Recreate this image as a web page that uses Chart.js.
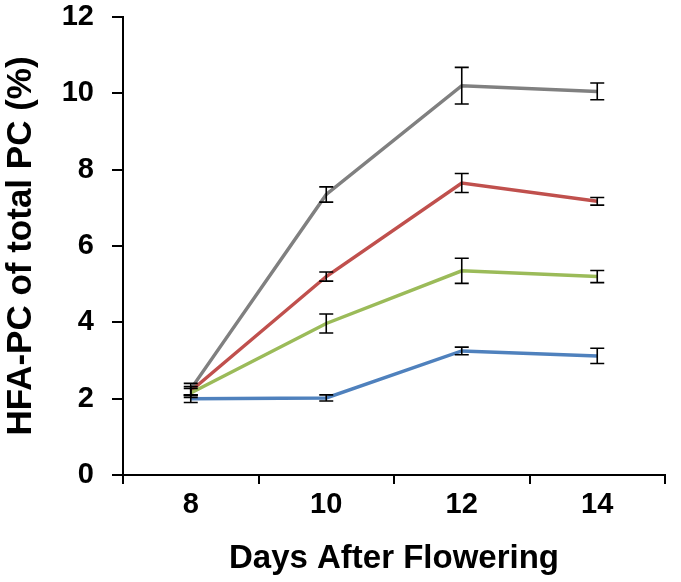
<!DOCTYPE html>
<html>
<head>
<meta charset="utf-8">
<script src="https://cdn.jsdelivr.net/npm/chart.js@4/dist/chart.umd.min.js"></script>
<style>
  html, body { margin: 0; padding: 0; background: #fff; }
  #wrap { width: 681px; height: 582px; }
</style>
</head>
<body>
<div id="wrap"><canvas id="myChart" width="681" height="582"></canvas></div>
<script>
// data
const days = ['8', '10', '12', '14'];
const blueVals = [2.0, 2.02, 3.25, 3.12];
const blueErr = [0.1, 0.08, 0.1, 0.2];
const greenVals = [2.15, 3.97, 5.35, 5.2];
const greenErr = [0.12, 0.25, 0.33, 0.16];
const redVals = [2.2, 5.2, 7.65, 7.17];
const redErr = [0.12, 0.12, 0.25, 0.1];
const grayVals = [2.25, 7.35, 10.2, 10.05];
const grayErr = [0.15, 0.2, 0.48, 0.22];
const yTicks = [0, 2, 4, 6, 8, 10, 12];

// error bars, drawn through the y scale
const errorBars = {
  id: 'errorBars',
  afterDatasetsDraw(chart) {
    const ctx = chart.ctx;
    const y = chart.scales.y;
    ctx.save();
    ctx.strokeStyle = '#000';
    ctx.lineWidth = 1.6;
    chart.data.datasets.forEach((ds, i) => {
      const meta = chart.getDatasetMeta(i);
      meta.data.forEach((pt, j) => {
        const e = ds.err[j];
        const v = ds.data[j];
        const top = y.getPixelForValue(v + e);
        const bot = y.getPixelForValue(v - e);
        const x = pt.x;
        ctx.beginPath();
        ctx.moveTo(x, top); ctx.lineTo(x, bot);
        ctx.moveTo(x - 7, top); ctx.lineTo(x + 7, top);
        ctx.moveTo(x - 7, bot); ctx.lineTo(x + 7, bot);
        ctx.stroke();
      });
    });
    ctx.restore();
  }
};

function series(vals, err, color) {
  return {
    data: vals,
    err: err,
    borderColor: color,
    backgroundColor: color,
    borderWidth: 3.5,
    pointRadius: 0,
    tension: 0
  };
}

const tickFont = { family: 'Liberation Sans', size: 29, weight: 'bold' };

const config = {
  type: 'line',
  data: {
    labels: days,
    datasets: [
      series(blueVals, blueErr, '#4f81bd'),
      series(greenVals, greenErr, '#9bbb59'),
      series(redVals, redErr, '#c0504d'),
      series(grayVals, grayErr, '#808080')
    ]
  },
  options: {
    responsive: false,
    animation: false,
    layout: { padding: { left: 0, right: 16, top: 17, bottom: 0 } },
    plugins: { legend: { display: false }, tooltip: { enabled: false } },
    scales: {
      x: {
        offset: true,
        afterFit(scale) { scale.height = 107; },
        grid: { display: true, offset: true, drawOnChartArea: false, drawTicks: true, tickLength: 9, color: '#000', lineWidth: 2 },
        border: { color: '#000', width: 2 },
        ticks: { color: '#000', font: tickFont, padding: 4, maxRotation: 0 },
        title: { display: true, text: 'Days After Flowering', color: '#000', font: { family: 'Liberation Sans', size: 33, weight: 'bold' }, padding: { top: 0, bottom: 3 } }
      },
      y: {
        min: 0,
        max: 12,
        afterBuildTicks(scale) { scale.ticks = yTicks.map(v => ({ value: v })); },
        afterFit(scale) { scale.width = 123; scale.paddingTop = 0; },
        grid: { display: true, drawOnChartArea: false, drawTicks: true, tickLength: 11, color: '#000', lineWidth: 2 },
        border: { color: '#000', width: 2 },
        ticks: { color: '#000', font: tickFont, padding: 18 },
        title: { display: true, text: 'HFA-PC of total PC (%)', color: '#000', font: { family: 'Liberation Sans', size: 35, weight: 'bold' }, padding: { top: 0, bottom: 0 } }
      }
    }
  },
  plugins: [errorBars]
};

new Chart(document.getElementById('myChart'), config);
</script>
</body>
</html>
